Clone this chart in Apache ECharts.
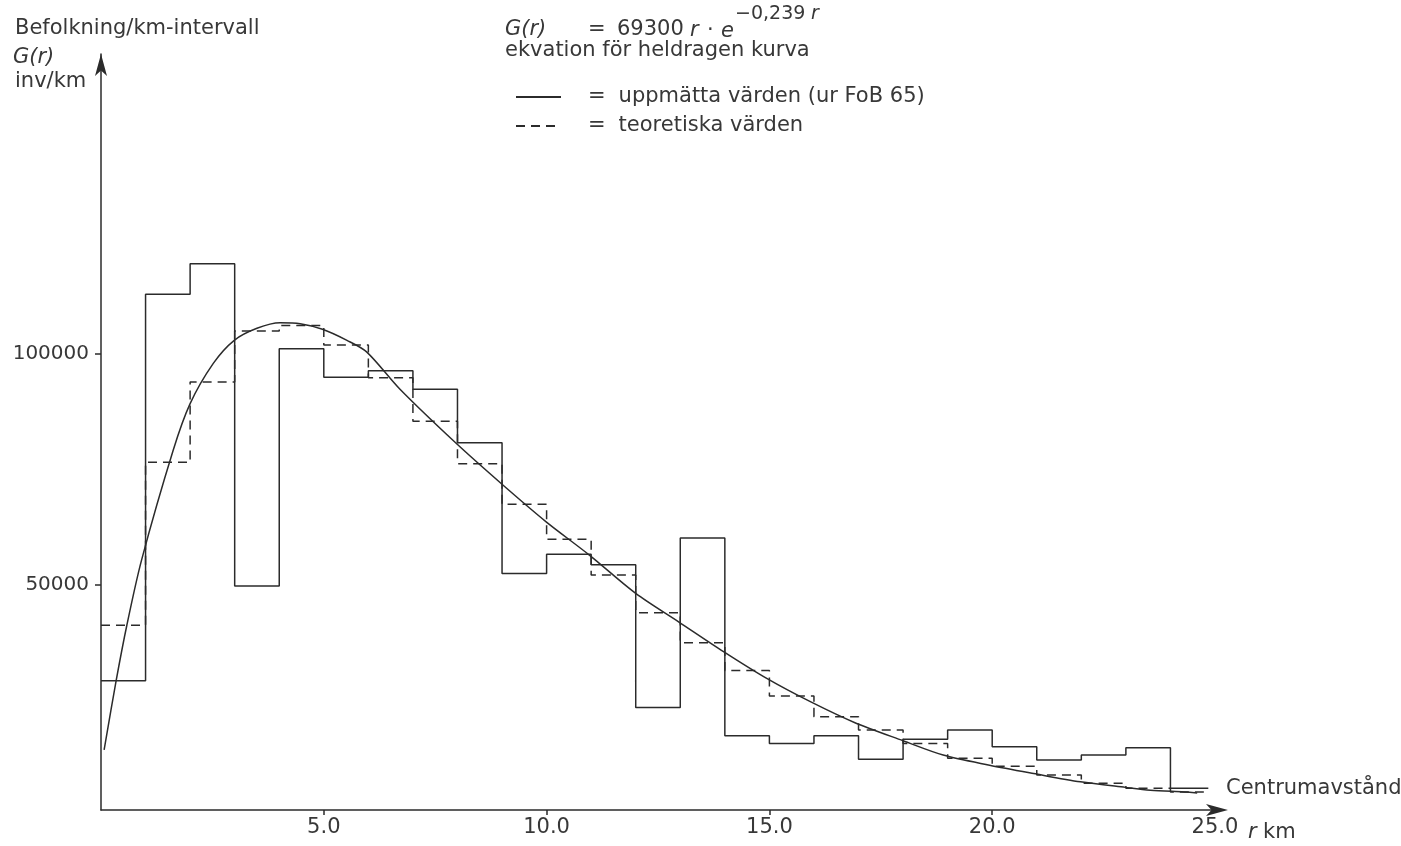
<!DOCTYPE html>
<html>
<head>
<meta charset="utf-8">
<title>Befolkning per km-intervall</title>
<script src="https://cdn.jsdelivr.net/npm/echarts@6/dist/echarts.min.js"></script>
<style>
  html, body { margin: 0; padding: 0; background: #fff; }
  #chart { width: 1401px; height: 846px; }
</style>
</head>
<body>
<div id="chart"></div>
<script>
// km-intervall: vänsterkant för varje stapel, sista stapeln slutar vid binEnd
const binStart = [0, 1, 2, 3, 4, 5, 6, 7, 8, 9, 10, 11, 12, 13, 14, 15, 16, 17, 18, 19, 20, 21, 22, 23, 24];
const binEnd = 24.85;

// uppmätta värden (ur FoB 65), inv/km
const measured = [29300, 113000, 119600, 49800, 101200, 95000, 96400, 92400, 80800, 52500, 56700, 54400,
  23500, 60200, 17400, 15700, 17400, 12300, 16600, 18600, 15000, 12100, 13200, 14800, 6000];

// teoretiska värden, inv/km
const theoretical = [41300, 76600, 94000, 105000, 106200, 102000, 94900, 85500, 76300, 67500, 59900, 52200,
  44000, 37500, 31500, 26000, 21500, 18600, 15700, 12500, 10800, 8900, 7100, 6000, 5200];

// heldragen kurva
const curveR = [0.07, 0.34, 0.58, 0.91, 1.62, 2.0, 2.52, 2.99, 3.5, 4.02, 4.47, 4.97, 5.52, 5.96, 6.71,
  7.97, 8.98, 9.99, 10.96, 12.0, 12.97, 13.97, 14.94, 15.93, 16.92, 18.0, 18.9, 19.94, 20.93, 21.98,
  22.99, 23.55, 24.3, 24.6];
const curveG = [14300, 29300, 41300, 55400, 79200, 89300, 98000, 103000, 105600, 106800, 106600, 105400,
  103000, 100500, 92400, 80700, 72000, 63700, 56500, 48200, 42000, 35600, 29800, 24700, 20200, 16300,
  13200, 11000, 9200, 7400, 6200, 5600, 5200, 5000];

const xLabelValues = [5, 10, 15, 20, 25];
const xTickMin = 5, xTickMax = 20;
const yTickMin = 50000, yTickMax = 100000;

const ink = '#2b2b2b';
const textColor = '#383838';
const font = 'DejaVu Sans';

// huvudaxlarnas skala
const xMin = 0, xMax = 25;
const yMin = 1300, yMax = 165000;
const plotLeft = 101, plotRight = 1215, plotTop = 54, plotBottom = 810;
const W = 1401, H = 846;
const xPx = v => plotLeft + (v - xMin) / (xMax - xMin) * (plotRight - plotLeft);
const yPx = v => plotBottom - (v - yMin) / (yMax - yMin) * (plotBottom - plotTop);

const stepData = vals => binStart.map((x, i) => [x, vals[i]]).concat([[binEnd, vals[vals.length - 1]]]);

const txt = (x, y, text, size = 21, italic = false) => ({
  type: 'text', x, y, silent: true,
  style: {
    text, fill: textColor, fontFamily: font, fontSize: size,
    fontStyle: italic ? 'italic' : 'normal', verticalAlign: 'middle'
  }
});

const chart = echarts.init(document.getElementById('chart'));
chart.setOption({
  animation: false,
  backgroundColor: '#fff',
  grid: [
    { left: plotLeft, right: W - plotRight, top: plotTop, bottom: H - plotBottom },
    // skalstreck 50000 / 100000 på y-axeln
    { left: plotLeft, right: W - plotRight, top: yPx(yTickMax), bottom: H - yPx(yTickMin) },
    // skalstreck 5 ... 20 på x-axeln
    { left: xPx(xTickMin), right: W - xPx(xTickMax), top: 600, bottom: H - plotBottom }
  ],
  xAxis: [
    {
      type: 'value',
      min: xMin,
      max: xMax,
      splitLine: { show: false },
      axisLine: {
        lineStyle: { color: ink, width: 1.5 },
        symbol: ['none', 'arrow'],
        symbolSize: [9, 22],
        symbolOffset: [0, 13]
      },
      axisTick: { show: false },
      axisLabel: {
        customValues: xLabelValues,
        formatter: v => v.toFixed(1),
        color: textColor, fontFamily: font, fontSize: 21, margin: 7
      }
    },
    { gridIndex: 1, type: 'value', min: xMin, max: xMax, show: false },
    {
      gridIndex: 2,
      type: 'value',
      min: xTickMin,
      max: xTickMax,
      interval: 5,
      splitLine: { show: false },
      axisLine: { show: false },
      axisTick: { show: true, length: 5, lineStyle: { color: ink, width: 1.5 } },
      axisLabel: { show: false }
    }
  ],
  yAxis: [
    {
      type: 'value',
      min: yMin,
      max: yMax,
      splitLine: { show: false },
      axisLine: {
        lineStyle: { color: ink, width: 1.5 },
        symbol: ['none', 'arrow'],
        symbolSize: [9, 22],
        symbolOffset: [0, 0]
      },
      axisTick: { show: false },
      axisLabel: { show: false }
    },
    {
      gridIndex: 1,
      type: 'value',
      min: yTickMin,
      max: yTickMax,
      interval: 50000,
      splitLine: { show: false },
      axisLine: { show: false },
      axisTick: { show: true, length: 6, lineStyle: { color: ink, width: 1.5 } },
      axisLabel: {
        formatter: v => String(v),
        color: textColor, fontFamily: font, fontSize: 20, margin: 12
      }
    },
    { gridIndex: 2, type: 'value', min: 0, max: 1, show: false }
  ],
  legend: {
    data: ['uppmätta värden (ur FoB 65)', 'teoretiska värden'],
    orient: 'vertical',
    left: 510,
    top: 80,
    itemWidth: 45,
    itemHeight: 14,
    itemGap: 5,
    selectedMode: false,
    itemStyle: { opacity: 0 },
    formatter: name => '{eq|=}' + name,
    textStyle: {
      color: textColor, fontFamily: font, fontSize: 21, lineHeight: 24,
      rich: { eq: { color: textColor, fontFamily: font, fontSize: 21, padding: [0, 13, 0, 22] } }
    }
  },
  graphic: [
    txt(15, 29, 'Befolkning/km-intervall'),
    txt(13, 58, 'G(r)', 21, true),
    txt(15, 82, 'inv/km'),
    txt(505, 30, 'G(r)', 21, true),
    txt(588, 30, '='),
    txt(617, 30, '69300'),
    txt(690, 31, 'r', 21, true),
    txt(707, 31, '·'),
    txt(721, 32, 'e', 21, true),
    txt(735, 14, '−0,239', 19),
    txt(811, 14, 'r', 19, true),
    txt(505, 51, 'ekvation för heldragen kurva'),
    txt(1226, 789, 'Centrumavstånd'),
    txt(1248, 833, 'r', 21, true),
    txt(1263, 833, 'km')
  ],
  series: [
    {
      name: 'uppmätta värden (ur FoB 65)',
      type: 'line',
      step: 'end',
      symbol: 'none',
      data: stepData(measured),
      lineStyle: { color: ink, width: 1.5 },
      itemStyle: { color: ink }
    },
    {
      name: 'teoretiska värden',
      type: 'line',
      step: 'end',
      symbol: 'none',
      data: stepData(theoretical),
      lineStyle: { color: ink, width: 1.5, type: [9, 6] },
      itemStyle: { color: ink }
    },
    {
      name: 'G(r)',
      type: 'line',
      smooth: 0.3,
      symbol: 'none',
      data: curveR.map((r, i) => [r, curveG[i]]),
      lineStyle: { color: ink, width: 1.5 },
      itemStyle: { color: ink }
    }
  ]
});
</script>
</body>
</html>
